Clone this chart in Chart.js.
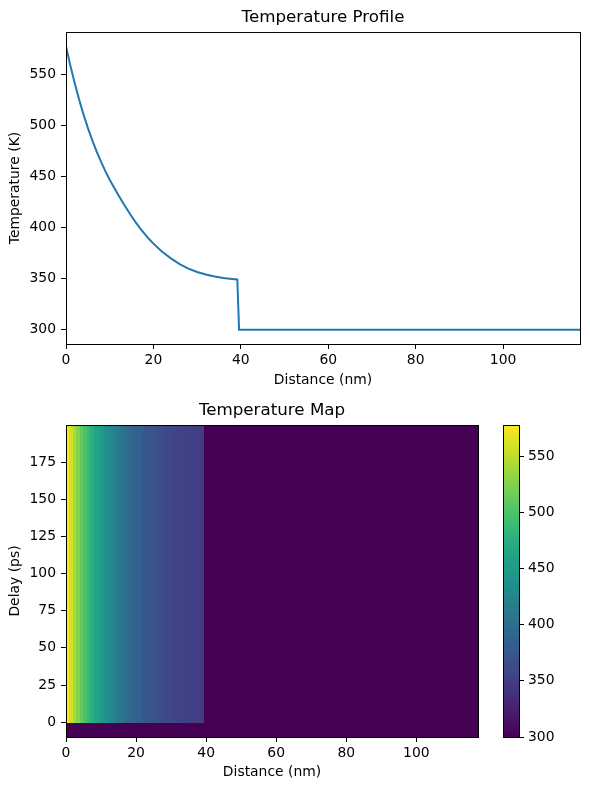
<!DOCTYPE html>
<html>
<head>
<meta charset="utf-8">
<script src="https://cdn.jsdelivr.net/npm/chart.js@4.4.1/dist/chart.umd.min.js"></script>
<style>
  html, body { margin: 0; padding: 0; background: #fff; }
  #wrap { position: relative; width: 590px; height: 790px; }
  canvas { position: absolute; }
</style>
</head>
<body>
<div id="wrap">
  <canvas id="profile" width="590" height="395" style="left:0;top:0"></canvas>
  <canvas id="map" width="590" height="395" style="left:0;top:395px"></canvas>
  <canvas id="cbar" width="110" height="395" style="left:480px;top:395px"></canvas>
</div>
<script>
// Profilo (nm, K)
const distance = [0, 1, 2, 3, 4, 5, 6, 7, 8, 9, 10, 11, 12, 13, 14, 15, 16, 17, 18, 19, 20, 22, 24, 26, 28, 30, 32, 34, 36, 38, 39.2, 39.6, 117.6];
const temperature = [578, 559, 541.6, 525.7, 511.2, 498, 485.9, 474.9, 464.8, 455.6, 447.2, 439.5, 432, 424.8, 418, 411.3, 405, 399.3, 394, 389, 384.5, 376.5, 370, 364.5, 360, 356.7, 354.2, 352.3, 350.9, 349.9, 349.4, 300, 300];
// Bordi delle righe della mappa (ps): prima dello zero tutto a temperatura ambiente
const delayEdges = [-10, 0, 200];
const ambient = 300;

// Tick
const xTicks = [0, 20, 40, 60, 80, 100];
const tempTicks = [300, 350, 400, 450, 500, 550];
const delayTicks = [0, 25, 50, 75, 100, 125, 150, 175];

const tMin = Math.min(...temperature);
const tMax = Math.max(...temperature);
const xMax = distance[distance.length - 1];
const yPad = (tMax - tMin) * 0.05;

// Colormap viridis
const viridis = ['#440154', '#482475', '#414487', '#355f8d', '#2a788e', '#21918c', '#22a884', '#44bf70', '#7ad151', '#bddf26', '#fde725'];
const hex = h => [1, 3, 5].map(i => parseInt(h.substr(i, 2), 16));
const colorFor = v => {
    let t = (v - tMin) / (tMax - tMin);
    t = Math.min(1, Math.max(0, t)) * (viridis.length - 1);
    const i = Math.min(Math.floor(t), viridis.length - 2);
    const f = t - i;
    const a = hex(viridis[i]), b = hex(viridis[i + 1]);
    const c = a.map((x, k) => Math.round(x + (b[k] - x) * f));
    return `rgb(${c[0]},${c[1]},${c[2]})`;
};

Chart.defaults.font.family = "'DejaVu Sans', sans-serif";
Chart.defaults.font.size = 13.9;
Chart.defaults.color = '#000';

const setTicks = vals => scale => { scale.ticks = vals.map(v => ({ value: v })); };
const fixWidth = w => scale => { scale.width = w; };
const fixHeight = h => scale => { scale.height = h; };

const tickGrid = { display: true, drawOnChartArea: false, drawTicks: true, tickLength: 5, tickColor: '#000', tickWidth: 1 };

// Cornice nera attorno all'area del grafico
const framePlugin = {
    id: 'frame',
    afterDraw(chart) {
        const { ctx, chartArea: a } = chart;
        ctx.save();
        ctx.strokeStyle = '#000';
        ctx.lineWidth = 1;
        ctx.strokeRect(a.left + 0.5, a.top + 0.5, a.right - a.left, a.bottom - a.top);
        ctx.restore();
    }
};

// Grafico 1: profilo di temperatura
new Chart(document.getElementById('profile'), {
    type: 'line',
    data: {
        datasets: [{
            data: distance.map((x, i) => ({ x, y: temperature[i] })),
            borderColor: '#1f77b4',
            borderWidth: 2,
            pointRadius: 0,
            tension: 0,
            fill: false
        }]
    },
    options: {
        responsive: false,
        animation: false,
        layout: { padding: { left: 0, right: 10, top: 0, bottom: 0 } },
        plugins: {
            legend: { display: false },
            tooltip: { enabled: false },
            title: {
                display: true,
                fullSize: false,
                text: 'Temperature Profile',
                font: { size: 16.7, weight: 'normal' },
                padding: { top: 8, bottom: 4 }
            }
        },
        scales: {
            x: {
                type: 'linear',
                min: 0,
                max: xMax,
                afterBuildTicks: setTicks(xTicks),
                afterFit: fixHeight(51),
                grid: tickGrid,
                border: { display: false },
                ticks: { padding: 3, maxRotation: 0, autoSkip: false },
                title: { display: true, text: 'Distance (nm)', padding: { top: 0, bottom: 6 } }
            },
            y: {
                type: 'linear',
                min: tMin - yPad,
                max: tMax + yPad,
                afterBuildTicks: setTicks(tempTicks),
                afterFit: fixWidth(66),
                grid: tickGrid,
                border: { display: false },
                ticks: { padding: 5 },
                title: { display: true, text: 'Temperature (K)', padding: { top: 7, bottom: 0 } }
            }
        }
    },
    plugins: [framePlugin]
});

// Celle della mappa disegnate tramite le scale del grafico
const heatmapPlugin = {
    id: 'heatmap',
    beforeDatasetsDraw(chart) {
        const { ctx, chartArea: a, scales: { x, y } } = chart;
        ctx.save();
        ctx.beginPath();
        ctx.rect(a.left, a.top, a.right - a.left, a.bottom - a.top);
        ctx.clip();
        for (let r = 0; r < delayEdges.length - 1; r++) {
            const yTop = y.getPixelForValue(delayEdges[r + 1]);
            const yBot = y.getPixelForValue(delayEdges[r]);
            for (let i = 0; i < distance.length - 1; i++) {
                const v = r === 0 ? ambient : temperature[i];
                const x0 = x.getPixelForValue(distance[i]);
                const x1 = x.getPixelForValue(distance[i + 1]);
                ctx.fillStyle = colorFor(v);
                ctx.fillRect(Math.floor(x0), Math.floor(yTop), Math.ceil(x1) - Math.floor(x0), Math.ceil(yBot) - Math.floor(yTop));
            }
        }
        ctx.restore();
    }
};

// Grafico 2: mappa di temperatura
new Chart(document.getElementById('map'), {
    type: 'scatter',
    data: { datasets: [{ data: [] }] },
    options: {
        responsive: false,
        animation: false,
        layout: { padding: { left: 0, right: 112, top: 0, bottom: 0 } },
        plugins: {
            legend: { display: false },
            tooltip: { enabled: false },
            title: {
                display: true,
                fullSize: false,
                text: 'Temperature Map',
                font: { size: 16.7, weight: 'normal' },
                padding: { top: 6, bottom: 4 }
            }
        },
        scales: {
            x: {
                type: 'linear',
                min: 0,
                max: xMax,
                afterBuildTicks: setTicks(xTicks),
                afterFit: fixHeight(53),
                grid: tickGrid,
                border: { display: false },
                ticks: { padding: 3, maxRotation: 0, autoSkip: false },
                title: { display: true, text: 'Distance (nm)', padding: { top: 0, bottom: 9 } }
            },
            y: {
                type: 'linear',
                min: delayEdges[0],
                max: delayEdges[delayEdges.length - 1],
                afterBuildTicks: setTicks(delayTicks),
                afterFit: fixWidth(66),
                grid: tickGrid,
                border: { display: false },
                ticks: { padding: 5 },
                title: { display: true, text: 'Delay (ps)', padding: { top: 7, bottom: 0 } }
            }
        }
    },
    plugins: [heatmapPlugin, framePlugin]
});

// Grafico 3: barra dei colori (bande sovrapposte dal basso)
const bandCount = 128;
const bandTops = [];
for (let i = 1; i <= bandCount; i++) bandTops.push(tMin + (tMax - tMin) * i / bandCount);
const cbarDatasets = bandTops.map((top, i) => ({
    data: [[tMin, top]],
    backgroundColor: colorFor(tMin + (tMax - tMin) * (i + 0.5) / bandCount),
    borderWidth: 0,
    barPercentage: 1,
    categoryPercentage: 1,
    grouped: false
}));

new Chart(document.getElementById('cbar'), {
    type: 'bar',
    data: { labels: [''], datasets: cbarDatasets },
    options: {
        responsive: false,
        animation: false,
        layout: { padding: { left: 23, right: 0, top: 30, bottom: 53 } },
        plugins: { legend: { display: false }, tooltip: { enabled: false } },
        scales: {
            x: { display: false },
            y: {
                position: 'right',
                min: tMin,
                max: tMax,
                afterBuildTicks: setTicks(tempTicks),
                afterFit: fixWidth(71),
                grid: tickGrid,
                border: { display: false },
                ticks: { padding: 4 }
            }
        }
    },
    plugins: [framePlugin]
});
</script>
</body>
</html>
